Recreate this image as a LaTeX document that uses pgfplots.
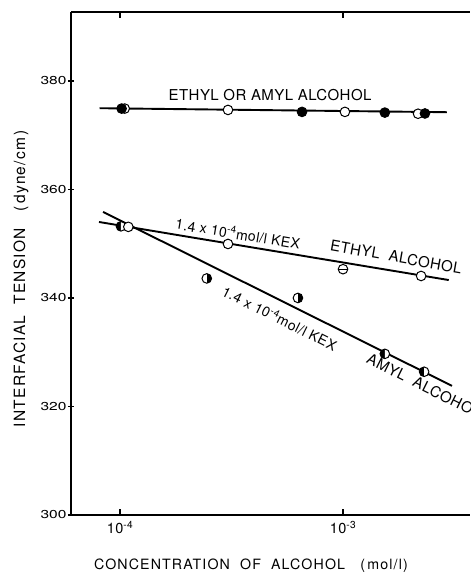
\documentclass[border=0pt]{standalone}
\usepackage{fontspec}
\setmainfont{TeX Gyre Heros}[LetterSpace=3]
\newfontfamily\widefont[FakeStretch=1.35]{TeX Gyre Heros}
\newfontfamily\lsfont[LetterSpace=8]{TeX Gyre Heros}
\usepackage{pgfplots}
\pgfplotsset{compat=1.18}
\usetikzlibrary{plotmarks}

\begin{document}
\begin{tikzpicture}
\useasboundingbox (0,0) rectangle (471pt,582pt);
\begin{axis}[
  at={(71pt,67pt)}, anchor=south west,
  scale only axis, width=399pt, height=503pt,
  xmode=log, xmin=6.03e-5, xmax=3.71e-3,
  ymin=300, ymax=392.7,
  axis x line*=box, axis y line*=left,
  axis line style={line width=1.5pt},
  clip=false,
  tick align=inside,
  major tick length=6pt,
  xtick={1e-4,1e-3},
  xticklabels={10\textsuperscript{-4},10\textsuperscript{-3}},
  xminorticks=false,
  ytick={300,320,340,360,380},
  every tick/.style={black, line width=1.2pt},
  ytick style={xshift=-3pt},
  every x tick label/.style={font=\fontsize{14.5}{17}\selectfont, yshift=-3pt},
  every y tick label/.style={font=\widefont\fontsize{11.5}{14}\selectfont, xshift=-1pt, /pgf/number format/assume math mode=true},
  xlabel={CONCENTRATION\ \ OF\ \ ALCOHOL\ \ \ (\,mol/l)},
  ylabel={INTERFACIAL\ \ TENSION\ \ \ (\,dyne/cm\,)},
  xlabel style={at={(axis description cs:0.451,-0.101)}, anchor=center, font=\lsfont\fontsize{14.2}{17}\selectfont},
  ylabel style={at={(axis description cs:-0.125,0.47)}, anchor=center, font=\lsfont\fontsize{15.5}{17}\selectfont},
]
% lines
\addplot[black, line width=1.9pt, no marks] coordinates {(8.1e-5,374.97) (2.92e-3,374.23)};
\addplot[black, line width=1.9pt, no marks] coordinates {(8.05e-5,354.0) (2.98e-3,343.3)};
\addplot[black, line width=1.9pt, no marks] coordinates {(8.4e-5,355.85) (3.08e-3,323.8)};
% top: open circles
\addplot[only marks, mark=*, mark size=4.8pt, mark options={fill=white, draw=black, line width=1pt}]
  coordinates {(1.05e-4,374.9) (3.05e-4,374.65) (1.02e-3,374.29) (2.17e-3,373.95)};
% top: filled circles
\addplot[only marks, mark=*, mark size=4.8pt, mark options={fill=black, draw=black, line width=1pt}]
  coordinates {(1.017e-4,374.9) (6.55e-4,374.29) (1.54e-3,374.16) (2.33e-3,374.0)};
% amyl half-filled, left
\addplot[only marks, mark=halfcircle*, mark size=4.8pt, mark options={fill=black, draw=black, line width=1pt, rotate=90}]
  coordinates {(1.01e-4,353.2) (1.54e-3,329.7) (2.31e-3,326.4)};
% amyl half-filled, right
\addplot[only marks, mark=halfcircle*, mark size=4.8pt, mark options={fill=black, draw=black, line width=1pt, rotate=-90}]
  coordinates {(2.45e-4,343.6) (6.28e-4,340.0)};
% ethyl open circles
\addplot[only marks, mark=*, mark size=4.8pt, mark options={fill=white, draw=black, line width=1pt}]
  coordinates {(1.09e-4,353.1) (3.05e-4,349.95) (1.0e-3,345.3) (2.24e-3,344.05)};
\addplot[only marks, mark=-, mark size=4.8pt, mark options={draw=black, line width=1pt}]
  coordinates {(1.0e-3,345.3)};
% labels
\node[font=\fontsize{15}{17}\selectfont] at (axis cs:4.71e-4,377.4) {ETHYL\ OR\ AMYL\ ALCOHOL};
\node[font=\fontsize{14}{16}\selectfont, rotate=-9.4] at (axis cs:3.38e-4,351.9) {1.4 x 10\textsuperscript{-4}mol/l KEX};
\node[font=\fontsize{15}{17}\selectfont, rotate=-10] at (axis cs:1.73e-3,347.6) {ETHYL\ \ ALCOHOL};
\node[font=\fontsize{14}{16}\selectfont, rotate=-26.5] at (axis cs:5.21e-4,336.3) {1.4 x 10\textsuperscript{-4}mol/l KEX};
\node[font=\fontsize{15}{17}\selectfont, rotate=-26.5] at (axis cs:2.31e-3,323.8) {AMYL\ \ ALCOHOL};
\end{axis}
\end{tikzpicture}
\end{document}
